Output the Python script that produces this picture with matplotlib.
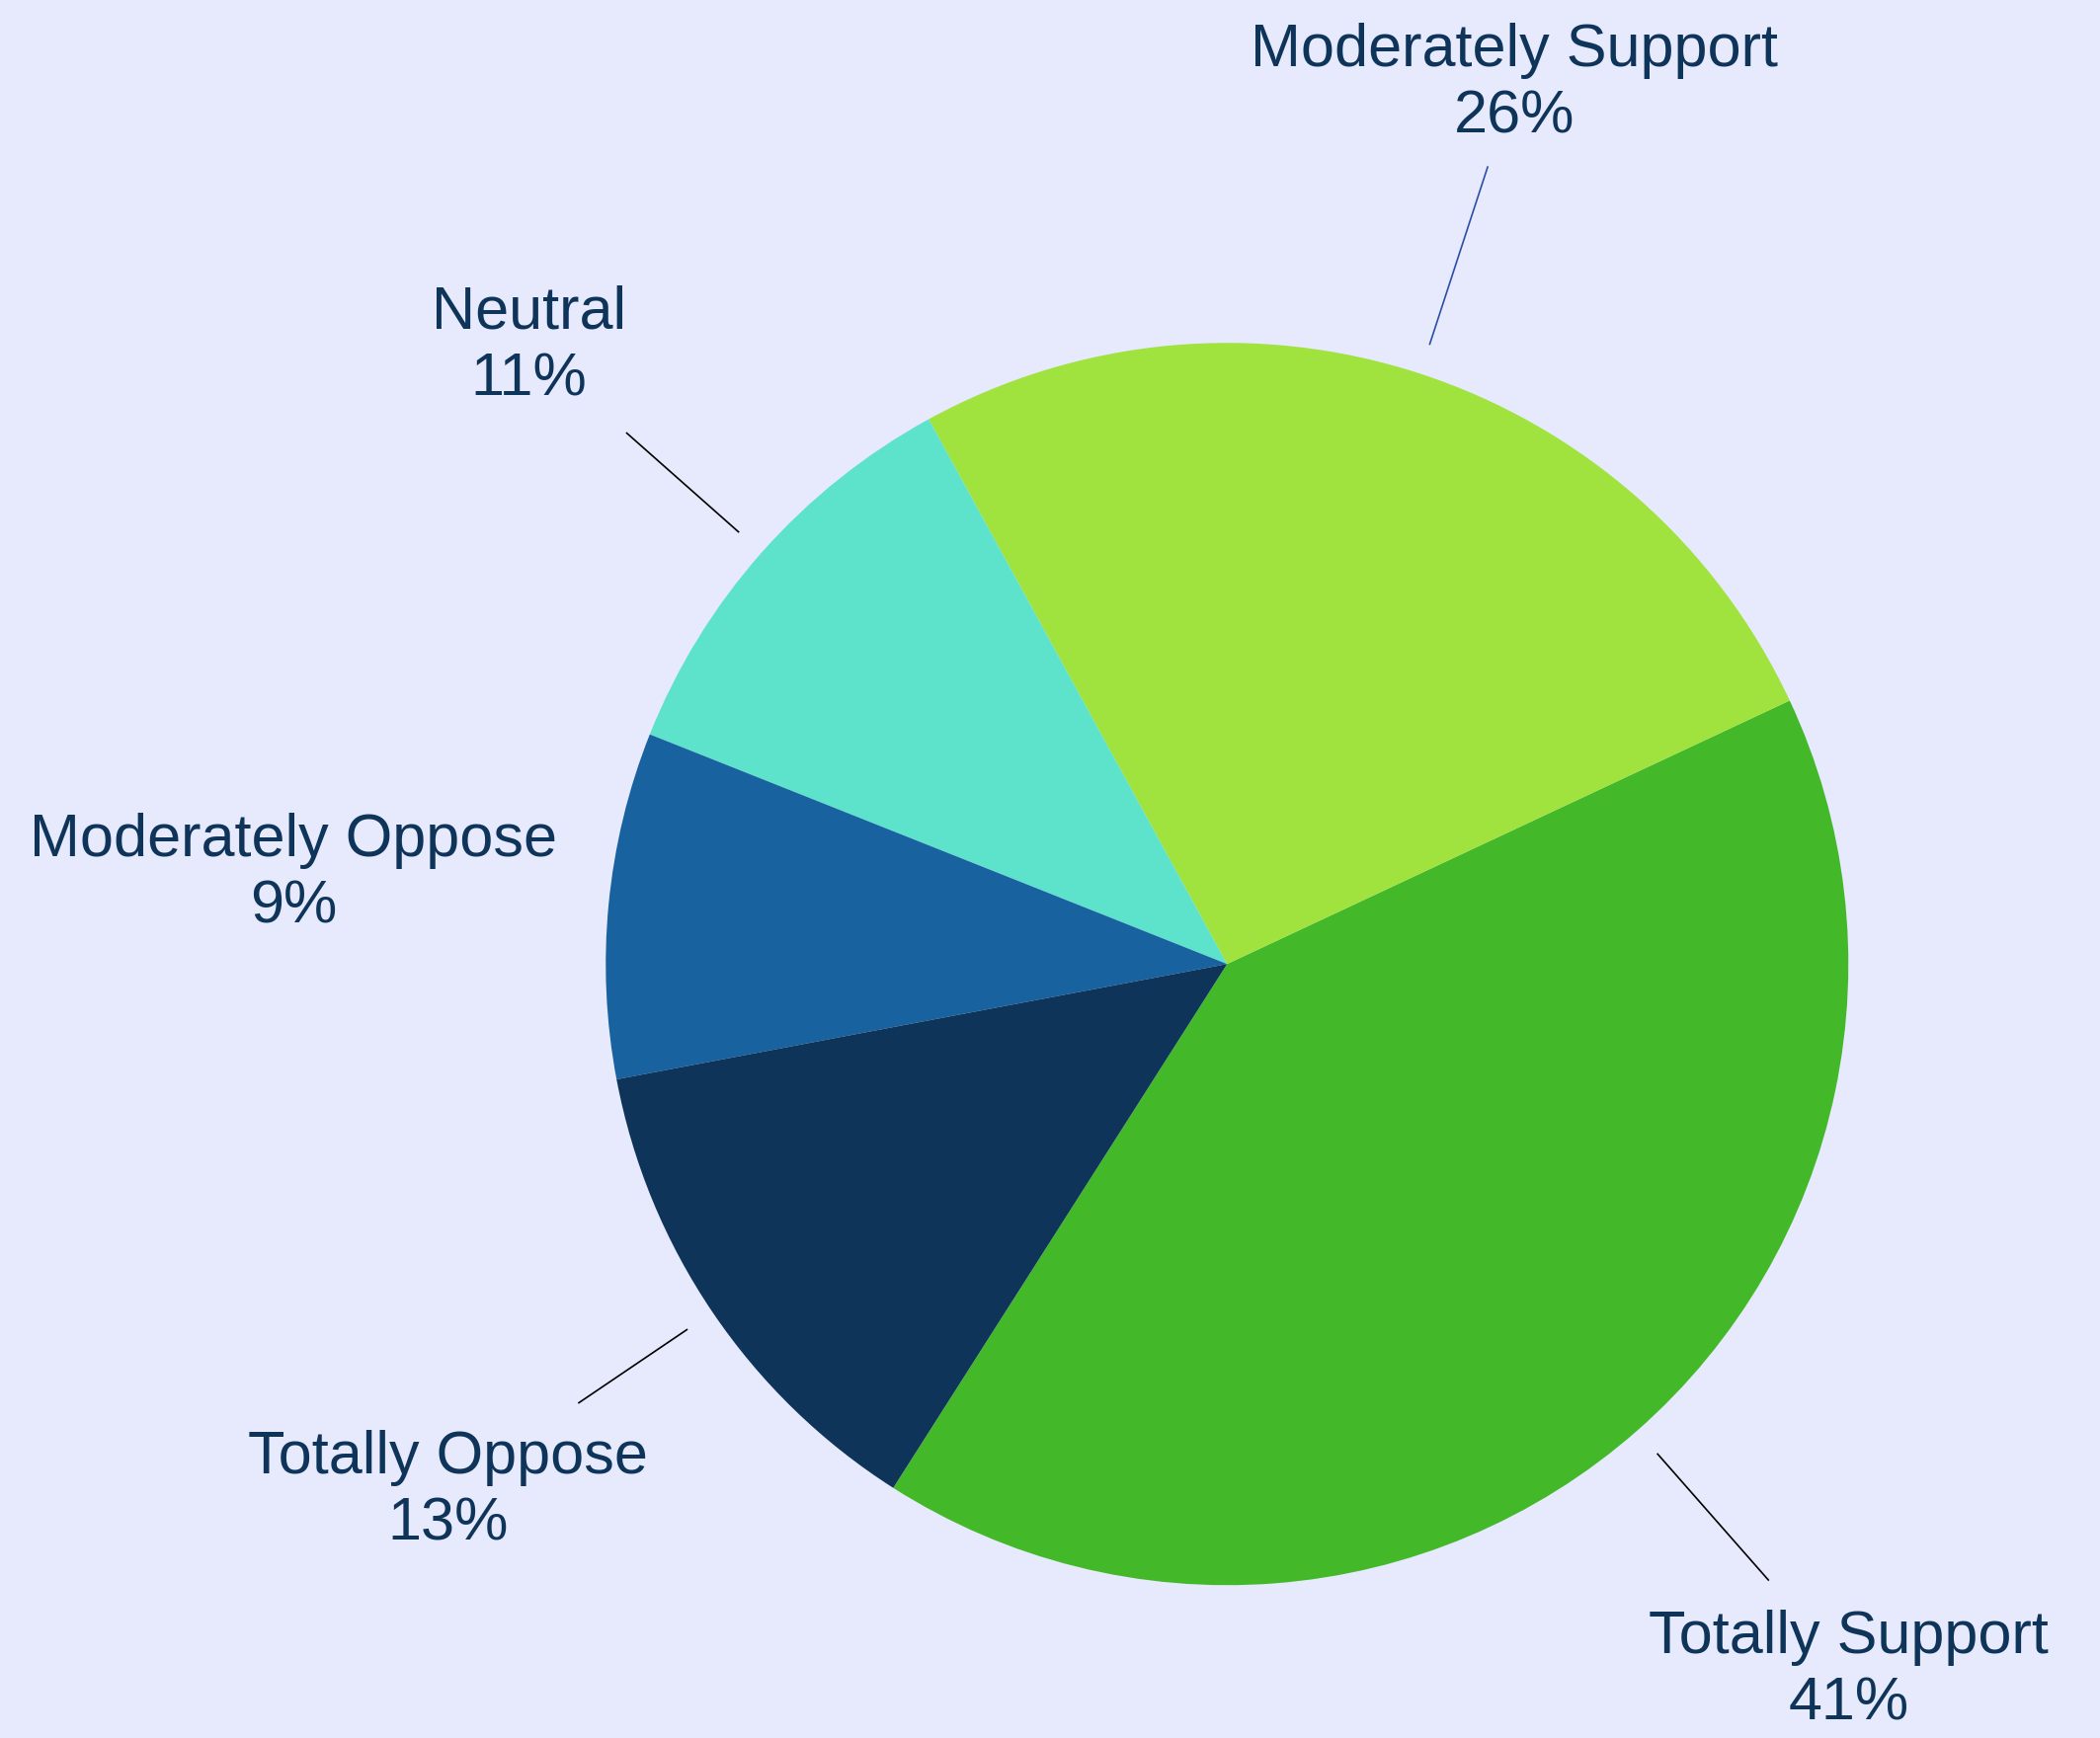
import numpy as np
import matplotlib.pyplot as plt

plt.switch_backend('agg')

labels = ['Totally Support', 'Moderately Support', 'Neutral', 'Moderately Oppose', 'Totally Oppose']
values = [41, 26, 11, 9, 13]
colors = ['#43B929', '#A0E33E', '#5DE3CB', '#1862A0', '#0F3459']
line_colors = ['black', '#2A4FA8', 'black', None, 'black']
line_ends = [1.32, 1.35, 1.29, None, 1.26]
label_r = [1.515, 1.49, 1.50, 1.51, 1.515]

bg = '#E7E9FD'
txt = '#0F3459'

fig = plt.figure(figsize=(10.63, 8.8), dpi=200, facecolor=bg)
ax = fig.add_axes([0, 0, 1, 1])
ax.set_facecolor(bg)

wedges, _ = ax.pie(values, colors=colors, startangle=237.5, counterclock=True,
                   radius=1, wedgeprops=dict(linewidth=0))

for w, lab, v, lc, le, lr in zip(wedges, labels, values, line_colors, line_ends, label_r):
    mid = np.deg2rad((w.theta1 + w.theta2) / 2)
    c, s = np.cos(mid), np.sin(mid)
    if lc is not None:
        ax.plot([1.05 * c, le * c], [1.05 * s, le * s], color=lc, lw=0.6)
    ax.text(lr * c, lr * s, f'{lab}\n{v}%', ha='center', va='center',
            fontsize=22, family='Liberation Sans', color=txt, linespacing=1.25)

ax.set_xlim(-1.975, 1.405)
ax.set_ylim(-1.246, 1.552)
ax.set_aspect('equal')
ax.axis('off')

fig.savefig('out.png', dpi=200, facecolor=bg)
